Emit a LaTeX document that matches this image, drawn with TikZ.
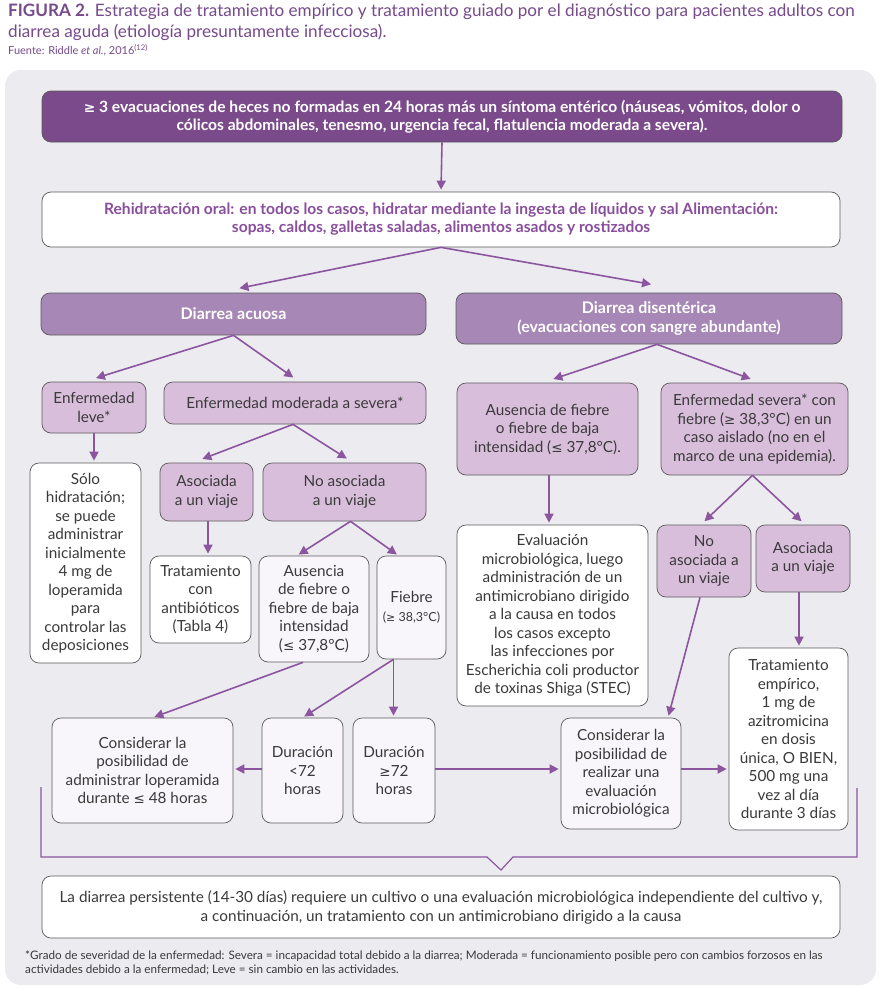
\documentclass[tikz,border=0pt]{standalone}
\usepackage{fontspec}
\setmainfont{Lato}
\newfontfamily\symf{DejaVu Sans}[Scale=0.88]
\newcommand{\GEs}{{\symf ≥}}
\newcommand{\LEs}{{\symf ≤}}
\usetikzlibrary{arrows.meta}
\definecolor{panel}{HTML}{ECEBF0}
\definecolor{darkp}{HTML}{7B4A8B}
\definecolor{midp}{HTML}{A687B5}
\definecolor{lightp}{HTML}{D9BEDC}
\definecolor{pale}{HTML}{F8F6FA}
\definecolor{bordc}{HTML}{5A5A5A}
\definecolor{arrc}{HTML}{8C559F}
\definecolor{txt}{HTML}{3A3A3A}
\definecolor{ptxt}{HTML}{8A4F9C}
\definecolor{titlec}{HTML}{774A8C}
\tikzset{
  box/.style={draw=bordc, line width=0.7pt, rounded corners=9pt, align=center, inner sep=0pt, text=txt, font=\fontsize{15.3}{18.5}\selectfont},
  wbox/.style={box, fill=white},
  lbox/.style={box, fill=lightp},
  pbox/.style={box, fill=pale},
  arr/.style={draw=arrc, line width=1.6pt, -{Triangle[length=9pt,width=9pt]}, shorten >=2pt},
  brk/.style={draw=arrc, line width=1.2pt},
}
\begin{document}
\begin{tikzpicture}[x=1pt,y=-1pt]
\useasboundingbox (0,0) rectangle (881,988);
\fill[white] (0,0) rectangle (881,988);
\fill[panel, rounded corners=16pt] (5,70) rectangle (876,985);
% title
\node[anchor=north west, inner sep=0pt, align=left, text=titlec, font=\fontsize{17.1}{21}\selectfont] (title) at (8,4)
 {\textbf{FIGURA 2.} Estrategia de tratamiento empírico y tratamiento guiado por el diagnóstico para pacientes adultos con\\diarrea aguda (etiología presuntamente infecciosa).};
\node[anchor=north west, inner sep=0pt, text=titlec, font=\fontsize{11}{12}\selectfont] (fuente) at (8,44)
 {Fuente: Riddle \textit{et al.}, 2016\textsuperscript{(12)}};
% nodes
\node[box, fill=darkp, text=white, font=\bfseries\fontsize{15.6}{18}\selectfont, minimum width=800pt, minimum height=51pt] (top) at (442,116.5)
 {\GEs{} 3 evacuaciones de heces no formadas en 24 horas más un síntoma entérico (náuseas, vómitos, dolor o\\cólicos abdominales, tenesmo, urgencia fecal, flatulencia moderada a severa).};
\node[wbox, text=ptxt, font=\bfseries\fontsize{15.6}{18}\selectfont, minimum width=798pt, minimum height=55pt] (rehid) at (441,219.5)
 {Rehidratación oral: en todos los casos, hidratar mediante la ingesta de líquidos y sal Alimentación:\\sopas, caldos, galletas saladas, alimentos asados y rostizados};
\node[box, fill=midp, text=white, font=\bfseries\fontsize{16}{18.5}\selectfont, minimum width=385pt, minimum height=42pt] (acuosa) at (233.5,314) {Diarrea acuosa};
\node[box, fill=midp, text=white, font=\bfseries\fontsize{16}{18.5}\selectfont, minimum width=386pt, minimum height=51pt] (disent) at (649,318.5) {Diarrea disentérica\\(evacuaciones con sangre abundante)};
\node[lbox, minimum width=104pt, minimum height=51pt] (enfleve) at (94,407.5) {Enfermedad\\leve*};
\node[lbox, minimum width=262pt, minimum height=42pt] (enfmod) at (295,403) {Enfermedad moderada a severa*};
\node[wbox, minimum width=111pt, minimum height=200pt] (solo) at (85.5,563) {Sólo\\hidratación;\\se puede\\administrar\\inicialmente\\4 mg de\\loperamida\\para\\controlar las\\deposiciones};
\node[lbox, minimum width=93pt, minimum height=58pt] (asoc) at (206.5,492) {Asociada\\a un viaje};
\node[lbox, minimum width=163pt, minimum height=58pt] (noasoc) at (344.5,492) {No asociada\\a un viaje};
\node[wbox, minimum width=101pt, minimum height=87pt] (trat) at (200.5,599.5) {Tratamiento\\con\\antibióticos\\(Tabla 4)};
\node[pbox, minimum width=110pt, minimum height=106pt] (aus) at (314,609) {Ausencia\\de fiebre o\\fiebre de baja\\intensidad\\(\LEs{} 37,8°C)};
\node[pbox, minimum width=69pt, minimum height=103pt] (fiebre) at (411.5,607.5) {Fiebre\\{\fontsize{12.5}{15}\selectfont(\GEs{} 38,3°C)}};
\node[pbox, minimum width=181pt, minimum height=105pt] (conslop) at (142.5,770.5) {Considerar la\\posibilidad de\\administrar loperamida\\durante \LEs{} 48 horas};
\node[pbox, minimum width=81pt, minimum height=105pt] (dur1) at (302.5,770.5) {Duración\\<72\\horas};
\node[pbox, minimum width=82pt, minimum height=105pt] (dur2) at (394,770.5) {Duración\\\GEs{}72\\horas};
\node[lbox, minimum width=181pt, minimum height=92pt] (ausR) at (547.5,429) {Ausencia de fiebre\\o fiebre de baja\\intensidad (\LEs{} 37,8°C).};
\node[lbox, minimum width=187pt, minimum height=92pt] (enfsev) at (754.5,429) {Enfermedad severa* con\\fiebre (\GEs{} 38,3°C) en un\\caso aislado (no en el\\marco de una epidemia).};
\node[wbox, minimum width=191pt, minimum height=181pt] (evalm) at (552.5,615.5) {Evaluación\\microbiológica, luego\\administración de un\\antimicrobiano dirigido\\a la causa en todos\\los casos excepto\\las infecciones por\\Escherichia coli productor\\de toxinas Shiga (STEC)};
\node[lbox, minimum width=94pt, minimum height=72pt] (noasocR) at (704,561) {No\\asociada a\\un viaje};
\node[lbox, minimum width=94pt, minimum height=67pt] (asocR) at (803,558.5) {Asociada\\a un viaje};
\node[wbox, minimum width=119pt, minimum height=182pt] (tratemp) at (788.5,739) {Tratamiento\\empírico,\\1 mg de\\azitromicina\\en dosis\\única, O BIEN,\\500 mg una\\vez al día\\durante 3 días};
\node[pbox, minimum width=120pt, minimum height=111pt] (conseval) at (621,773.5) {Considerar la\\posibilidad de\\realizar una\\evaluación\\microbiológica};
\node[wbox, font=\fontsize{15.3}{19}\selectfont, minimum width=798pt, minimum height=62pt] (bottom) at (441,907)
 {La diarrea persistente (14-30 días) requiere un cultivo o una evaluación microbiológica independiente del cultivo y,\\a continuación, un tratamiento con un antimicrobiano dirigido a la causa};
\node[anchor=north west, inner sep=0pt, align=left, text=txt, font=\fontsize{11.7}{14}\selectfont] (foot) at (25,950.5)
 {*Grado de severidad de la enfermedad: Severa = incapacidad total debido a la diarrea; Moderada = funcionamiento posible pero con cambios forzosos en las\\actividades debido a la enfermedad; Leve = sin cambio en las actividades.};
% connectors
\draw[arr] (top.south) -- (rehid.north);
\draw[arr] (rehid.south) -- ([xshift=4pt,yshift=4pt]acuosa.north);
\draw[arr] (rehid.south) -- ([xshift=4pt,yshift=8pt]disent.north);
\draw[arr] (acuosa.south) -- ([yshift=3pt]enfleve.north);
\draw[arr] (acuosa.south) -- ([yshift=3pt]enfmod.north);
\draw[arr] (enfleve.south) -- (enfleve.south |- solo.north);
\draw[arr] ([xshift=-2pt]enfmod.south) -- ([xshift=-6pt,yshift=3pt]asoc.north);
\draw[arr] ([xshift=-2pt]enfmod.south) -- ([xshift=4pt,yshift=3pt]noasoc.north);
\draw[arr] ([xshift=1.5pt]asoc.south) -- ([xshift=1.5pt]asoc.south |- trat.north);
\draw[arr] ([xshift=6pt]noasoc.south) -- ([xshift=-17pt]aus.north);
\draw[arr] ([xshift=6pt]noasoc.south) -- ([xshift=-13pt]fiebre.north);
\draw[arr] ([xshift=-11pt]aus.south) -- ([xshift=10pt]conslop.north);
\draw[arr] ([xshift=-18pt]fiebre.south) -- (dur1.north);
\draw[arr] ([xshift=-18pt]fiebre.south) -- ([xshift=-18pt]fiebre.south |- dur2.north);
\draw[arr] ([yshift=1.5pt]dur1.west) -- ([yshift=1.5pt]conslop.east);
\draw[arr] ([yshift=1.5pt]dur2.east) -- ([yshift=1.5pt]dur2.east -| conseval.west);
\draw[arr] ([yshift=4.5pt]conseval.east) -- ([yshift=4.5pt]conseval.east -| tratemp.west);
\draw[arr] ([xshift=8pt]disent.south) -- ([xshift=4pt,yshift=3pt]ausR.north);
\draw[arr] ([xshift=8pt]disent.south) -- ([xshift=-2pt,yshift=3pt]enfsev.north);
\draw[arr] ([xshift=1.5pt]ausR.south) -- ([xshift=1.5pt]ausR.south |- evalm.north);
\draw[arr] ([xshift=-2pt]enfsev.south) -- ([xshift=-1pt,yshift=2pt]noasocR.north);
\draw[arr] ([xshift=-2pt]enfsev.south) -- ([yshift=2pt]asocR.north);
\draw[arr] ([xshift=-4pt]asocR.south) -- ([xshift=-4pt]asocR.south |- tratemp.north);
\draw[arr] ([xshift=-4pt]noasocR.south) -- ([xshift=47pt]conseval.north);
% bracket
\coordinate (bl) at (41,787);
\coordinate (br) at (857,788);
\coordinate (vt) at (501,870);
\draw[brk] (bl) -- (41,857) -- (487,857) -- (vt) -- (513,857) -- (857,857) -- (br);
\end{tikzpicture}
\end{document}
